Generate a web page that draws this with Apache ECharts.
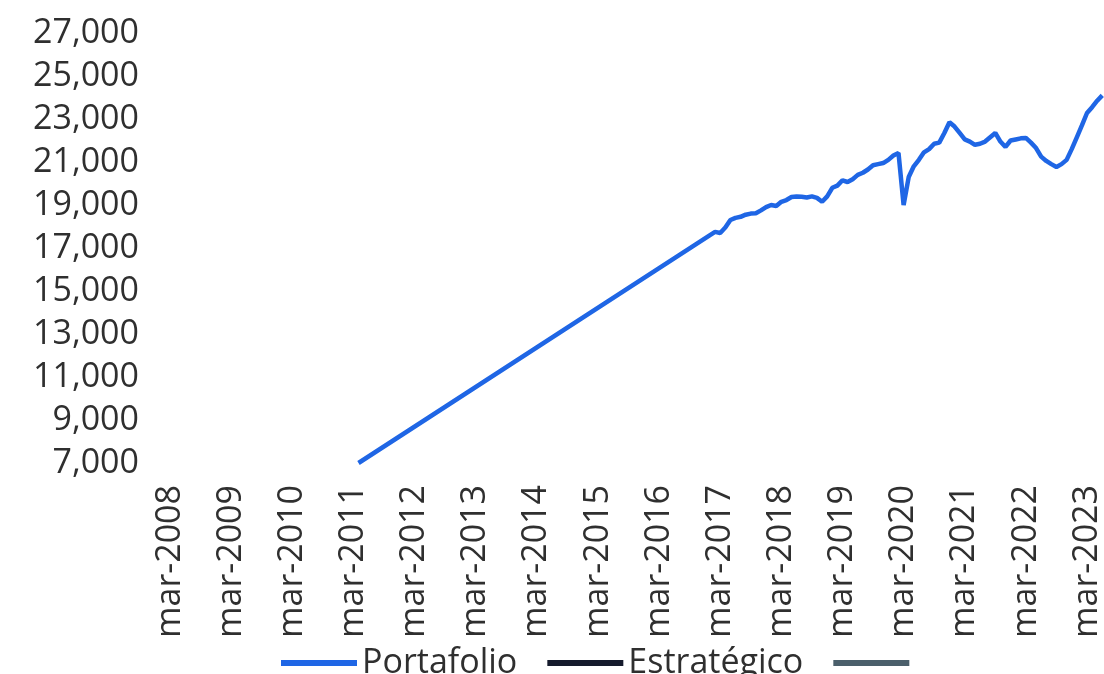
<!DOCTYPE html>
<html>
<head>
<meta charset="utf-8">
<script src="https://cdn.jsdelivr.net/npm/echarts@6/dist/echarts.min.js"></script>
<style>
html,body{margin:0;padding:0;background:#fff;}
#chart{width:1104px;height:674px;}
</style>
</head>
<body>
<div id="chart"></div>
<script>
// ---- data ----
const monthNames = ['ene','feb','mar','abr','may','jun','jul','ago','sep','oct','nov','dic'];
const firstMonth = { m: 2, y: 2008 };   // mar-2008
const monthCount = 184;                 // through jun-2023 (right edge of picture)
const categories = [];
for (let i = 0; i < monthCount; i++) {
  const k = firstMonth.m + i;
  categories.push(monthNames[k % 12] + '-' + (firstMonth.y + Math.floor(k / 12)));
}
const yTicks = [7000, 9000, 11000, 13000, 15000, 17000, 19000, 21000, 23000, 25000, 27000];

// Portafolio: one early point, then monthly readings from ene-2017
const portfolioEarly = [['abr-2011', 7000]];
const portfolioMonthlyStart = 'ene-2017';
const portfolioMonthly = [
  17600, 17750, 17700, 17950, 18300, 18400, 18450, 18550, 18600, 18620, 18750, 18900, // 2017
  19000, 18950, 19150, 19230, 19370, 19400, 19380, 19350, 19400, 19330, 19150, 19400, // 2018
  19800, 19900, 20150, 20070, 20200, 20400, 20500, 20650, 20850, 20900, 20950, 21100, // 2019
  21300, 21420, 19000, 20300, 20800, 21100, 21450, 21600, 21850, 21900, 22350, 22850, // 2020
  22650, 22350, 22050, 21950, 21800, 21850, 21950, 22150, 22350, 21950, 21700, 22000, // 2021
  22050, 22100, 22120, 21900, 21650, 21250, 21050, 20900, 20770, 20900, 21100, 21600, // 2022
  22150, 22700, 23280, 23550, 23850, 24100                                            // 2023
];
const estrategico = [];
const tercera = [];

const seriesNames = ['Portafolio', 'Estratégico', ' '];
const seriesColors = ['#1f66e5', '#151a2c', '#4b5f6b'];

// ---- build ----
const startIdx = categories.indexOf(portfolioMonthlyStart);
const portfolioData = portfolioEarly.concat(
  portfolioMonthly.map((v, i) => [categories[startIdx + i], v])
);

const FONT = 'Open Sans';
const FS = 34;
const TXT = '#2f2f2f';
const chart = echarts.init(document.getElementById('chart'));
chart.setOption({
  animation: false,
  color: seriesColors,
  grid: { left: 170, right: 0, top: 33, bottom: 211, containLabel: false },
  legend: {
    data: seriesNames,
    left: 281,
    top: 646,
    padding: 0,
    icon: 'rect',
    itemWidth: 76,
    itemHeight: 6,
    itemGap: 30,
    textStyle: { fontFamily: FONT, fontSize: FS, color: TXT }
  },
  xAxis: {
    type: 'category',
    data: categories,
    boundaryGap: false,
    axisLine: { show: false },
    axisTick: { show: false },
    splitLine: { show: false },
    axisLabel: {
      interval: 11,
      rotate: 90,
      margin: 22,
      fontFamily: FONT,
      fontSize: FS,
      color: TXT
    }
  },
  yAxis: {
    type: 'value',
    min: yTicks[0],
    max: yTicks[yTicks.length - 1],
    interval: 2000,
    axisLine: { show: false },
    axisTick: { show: false },
    splitLine: { show: false },
    axisLabel: {
      margin: 31,
      fontFamily: FONT,
      fontSize: FS,
      color: TXT,
      formatter: v => v.toLocaleString('en-US')
    }
  },
  series: [
    { name: seriesNames[0], type: 'line', data: portfolioData, showSymbol: false,
      lineStyle: { width: 4.5, color: seriesColors[0] } },
    { name: seriesNames[1], type: 'line', data: estrategico, showSymbol: false,
      lineStyle: { width: 4.5, color: seriesColors[1] } },
    { name: seriesNames[2], type: 'line', data: tercera, showSymbol: false,
      lineStyle: { width: 4.5, color: seriesColors[2] } }
  ]
});
</script>
</body>
</html>
